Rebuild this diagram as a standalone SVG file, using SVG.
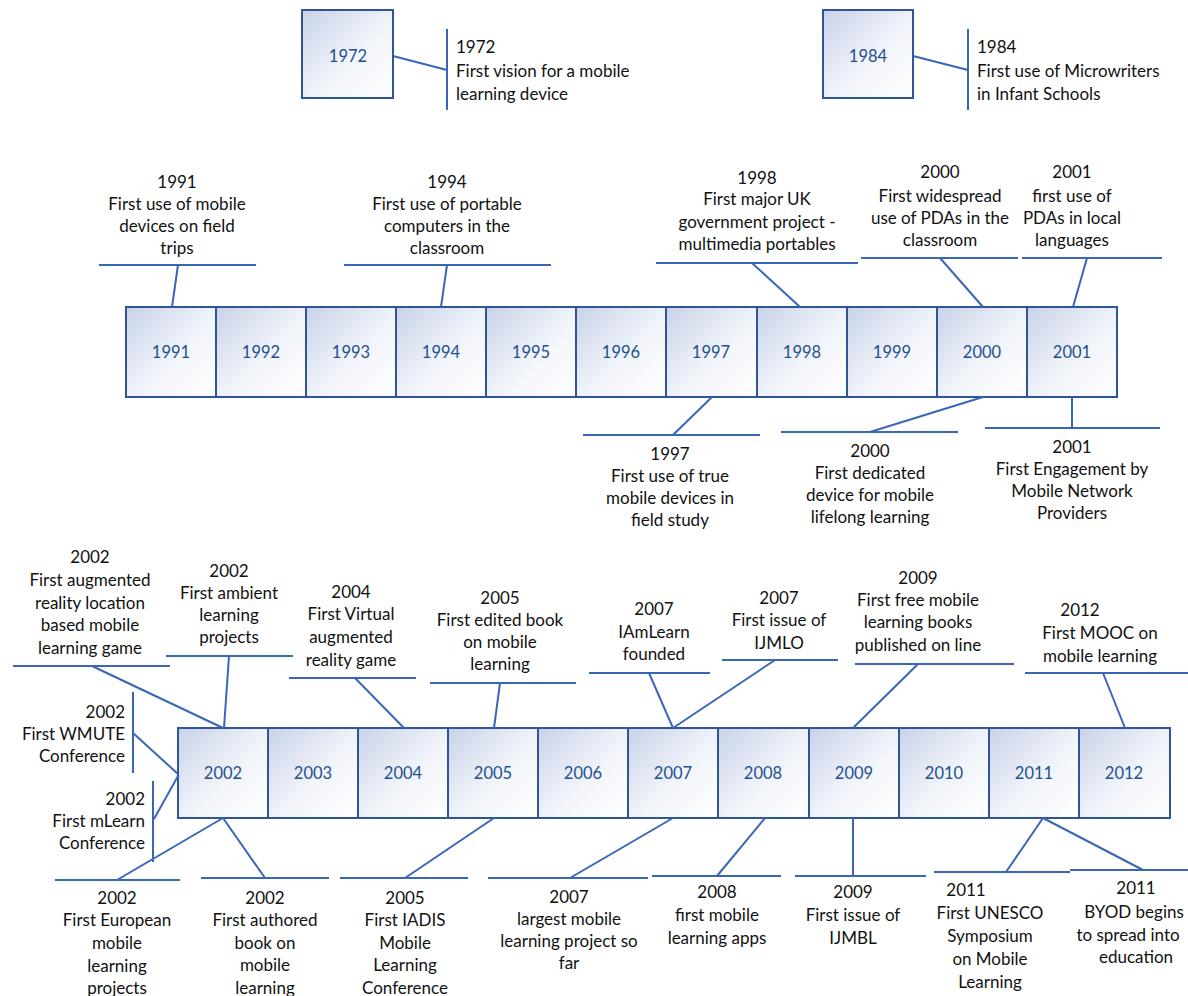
<svg xmlns="http://www.w3.org/2000/svg" width="1188" height="996" viewBox="0 0 1188 996">
  <defs>
    <linearGradient id="boxFill" x1="0" y1="0" x2="1" y2="1">
      <stop offset="0" stop-color="#c8d2e8"/>
      <stop offset="0.55" stop-color="#f1f4fa"/>
      <stop offset="1" stop-color="#ffffff"/>
    </linearGradient>
  </defs>
  <style>
    .box { fill: url(#boxFill); stroke: #2f5597; stroke-width: 2; }
    .year { font-family: Lato, "Noto Sans", sans-serif; font-size: 16.5px; fill: #24508f; text-anchor: middle; }
    .lbl, .lblL, .lblR { font-family: Lato, "Noto Sans", sans-serif; font-size: 17px; fill: #111111; }
    .lbl { text-anchor: middle; }
    .lblL { text-anchor: start; }
    .lblR { text-anchor: end; }
    .conn line { stroke: #3a66b7; stroke-width: 2; fill: none; }
  </style>
  <rect width="1188" height="996" fill="#ffffff"/>

  <!-- early milestones -->
  <g id="node-1972">
    <rect class="box" x="302" y="10" width="91" height="88"/>
    <text class="year" x="348" y="62">1972</text>
  </g>
  <g id="node-1984">
    <rect class="box" x="823" y="10" width="90" height="88"/>
    <text class="year" x="868" y="62">1984</text>
  </g>

  <!-- timeline 1991-2001 -->
  <g id="timeline-1991-2001">
    <g id="node-1991"><rect class="box" x="126" y="307" width="90" height="90"/><text class="year" x="171" y="358">1991</text></g>
    <g id="node-1992"><rect class="box" x="216" y="307" width="90" height="90"/><text class="year" x="261" y="358">1992</text></g>
    <g id="node-1993"><rect class="box" x="306" y="307" width="90" height="90"/><text class="year" x="351" y="358">1993</text></g>
    <g id="node-1994"><rect class="box" x="396" y="307" width="90" height="90"/><text class="year" x="441" y="358">1994</text></g>
    <g id="node-1995"><rect class="box" x="486" y="307" width="90" height="90"/><text class="year" x="531" y="358">1995</text></g>
    <g id="node-1996"><rect class="box" x="576" y="307" width="90" height="90"/><text class="year" x="621" y="358">1996</text></g>
    <g id="node-1997"><rect class="box" x="666" y="307" width="91" height="90"/><text class="year" x="711" y="358">1997</text></g>
    <g id="node-1998"><rect class="box" x="757" y="307" width="90" height="90"/><text class="year" x="802" y="358">1998</text></g>
    <g id="node-1999"><rect class="box" x="847" y="307" width="90" height="90"/><text class="year" x="892" y="358">1999</text></g>
    <g id="node-2000"><rect class="box" x="937" y="307" width="90" height="90"/><text class="year" x="982" y="358">2000</text></g>
    <g id="node-2001"><rect class="box" x="1027" y="307" width="90" height="90"/><text class="year" x="1072" y="358">2001</text></g>
  </g>

  <!-- timeline 2002-2012 -->
  <g id="timeline-2002-2012">
    <g id="node-2002"><rect class="box" x="178" y="728" width="90" height="90"/><text class="year" x="223" y="779">2002</text></g>
    <g id="node-2003"><rect class="box" x="268" y="728" width="90" height="90"/><text class="year" x="313" y="779">2003</text></g>
    <g id="node-2004"><rect class="box" x="358" y="728" width="90" height="90"/><text class="year" x="403" y="779">2004</text></g>
    <g id="node-2005"><rect class="box" x="448" y="728" width="90" height="90"/><text class="year" x="493" y="779">2005</text></g>
    <g id="node-2006"><rect class="box" x="538" y="728" width="90" height="90"/><text class="year" x="583" y="779">2006</text></g>
    <g id="node-2007"><rect class="box" x="628" y="728" width="90" height="90"/><text class="year" x="673" y="779">2007</text></g>
    <g id="node-2008"><rect class="box" x="718" y="728" width="91" height="90"/><text class="year" x="763" y="779">2008</text></g>
    <g id="node-2009"><rect class="box" x="809" y="728" width="90" height="90"/><text class="year" x="854" y="779">2009</text></g>
    <g id="node-2010"><rect class="box" x="899" y="728" width="90" height="90"/><text class="year" x="944" y="779">2010</text></g>
    <g id="node-2011"><rect class="box" x="989" y="728" width="90" height="90"/><text class="year" x="1034" y="779">2011</text></g>
    <g id="node-2012"><rect class="box" x="1079" y="728" width="91" height="90"/><text class="year" x="1124" y="779">2012</text></g>
  </g>

  <!-- callout connectors: leader line plus underline bar -->
  <g id="connectors" class="conn">
    <line x1="393" y1="56" x2="447" y2="70"/>
    <line x1="447" y1="29" x2="447" y2="110"/>
    <line x1="913" y1="56" x2="968" y2="70"/>
    <line x1="968" y1="29" x2="968" y2="110"/>

    <line x1="99" y1="265" x2="256" y2="265"/><line x1="178" y1="265" x2="172" y2="307"/>
    <line x1="344" y1="265" x2="551" y2="265"/><line x1="447" y1="265" x2="441" y2="307"/>
    <line x1="656" y1="263" x2="858" y2="263"/><line x1="752" y1="263" x2="800" y2="307"/>
    <line x1="861" y1="258" x2="1018" y2="258"/><line x1="940" y1="258" x2="983" y2="307"/>
    <line x1="1022" y1="258" x2="1162" y2="258"/><line x1="1087" y1="258" x2="1073" y2="307"/>

    <line x1="583" y1="435" x2="760" y2="435"/><line x1="712" y1="397" x2="673" y2="435"/>
    <line x1="781" y1="432" x2="958" y2="432"/><line x1="983" y1="397" x2="870" y2="432"/>
    <line x1="985" y1="428" x2="1160" y2="428"/><line x1="1072" y1="397" x2="1072" y2="428"/>

    <line x1="13" y1="666" x2="170" y2="666"/><line x1="92" y1="666" x2="223" y2="728"/>
    <line x1="166" y1="656" x2="293" y2="656"/><line x1="229" y1="656" x2="224" y2="728"/>
    <line x1="133" y1="692" x2="133" y2="773"/><line x1="133" y1="733" x2="178" y2="774"/>
    <line x1="153" y1="781" x2="153" y2="862"/><line x1="178" y1="776" x2="154" y2="819"/>
    <line x1="289" y1="678" x2="416" y2="678"/><line x1="355" y1="678" x2="404" y2="728"/>
    <line x1="430" y1="683" x2="576" y2="683"/><line x1="500" y1="683" x2="494" y2="728"/>
    <line x1="589" y1="673" x2="710" y2="673"/><line x1="649" y1="673" x2="673" y2="728"/>
    <line x1="722" y1="660" x2="838" y2="660"/><line x1="775" y1="660" x2="673" y2="728"/>
    <line x1="855" y1="664" x2="1014" y2="664"/><line x1="918" y1="664" x2="853" y2="728"/>
    <line x1="1025" y1="673" x2="1188" y2="673"/><line x1="1103" y1="673" x2="1125" y2="728"/>

    <line x1="55" y1="880" x2="180" y2="880"/><line x1="117" y1="880" x2="223" y2="818"/>
    <line x1="201" y1="878" x2="329" y2="878"/><line x1="223" y1="818" x2="265" y2="878"/>
    <line x1="340" y1="878" x2="468" y2="878"/><line x1="494" y1="818" x2="405" y2="878"/>
    <line x1="488" y1="878" x2="648" y2="878"/><line x1="673" y1="818" x2="570" y2="878"/>
    <line x1="652" y1="876" x2="781" y2="876"/><line x1="765" y1="818" x2="717" y2="876"/>
    <line x1="795" y1="876" x2="926" y2="876"/><line x1="853" y1="818" x2="853" y2="876"/>
    <line x1="934" y1="872" x2="1070" y2="872"/><line x1="1043" y1="818" x2="1006" y2="872"/>
    <line x1="1070" y1="870" x2="1188" y2="870"/><line x1="1043" y1="818" x2="1143" y2="870"/>
  </g>

  <!-- event labels -->
  <g id="labels">
    <text class="lblL"><tspan x="456" y="53">1972</tspan><tspan x="456" y="77">First vision for a mobile</tspan><tspan x="456" y="100">learning device</tspan></text>
    <text class="lblL"><tspan x="977" y="53">1984</tspan><tspan x="977" y="77">First use of Microwriters</tspan><tspan x="977" y="100">in Infant Schools</tspan></text>

    <text class="lbl"><tspan x="177" y="188">1991</tspan><tspan x="177" y="210">First use of mobile</tspan><tspan x="177" y="232">devices on field</tspan><tspan x="177" y="254">trips</tspan></text>
    <text class="lbl"><tspan x="447" y="188">1994</tspan><tspan x="447" y="210">First use of portable</tspan><tspan x="447" y="232">computers in the</tspan><tspan x="447" y="254">classroom</tspan></text>
    <text class="lbl"><tspan x="757" y="184">1998</tspan><tspan x="757" y="205">First major UK</tspan><tspan x="757" y="228">government project -</tspan><tspan x="757" y="250">multimedia portables</tspan></text>
    <text class="lbl"><tspan x="940" y="178">2000</tspan><tspan x="940" y="202">First widespread</tspan><tspan x="940" y="224">use of PDAs in the</tspan><tspan x="940" y="246">classroom</tspan></text>
    <text class="lbl"><tspan x="1072" y="178">2001</tspan><tspan x="1072" y="202">first use of</tspan><tspan x="1072" y="224">PDAs in local</tspan><tspan x="1072" y="246">languages</tspan></text>

    <text class="lbl"><tspan x="670" y="460">1997</tspan><tspan x="670" y="482">First use of true</tspan><tspan x="670" y="504">mobile devices in</tspan><tspan x="670" y="526">field study</tspan></text>
    <text class="lbl"><tspan x="870" y="457">2000</tspan><tspan x="870" y="479">First dedicated</tspan><tspan x="870" y="501">device for mobile</tspan><tspan x="870" y="523">lifelong learning</tspan></text>
    <text class="lbl"><tspan x="1072" y="453">2001</tspan><tspan x="1072" y="475">First Engagement by</tspan><tspan x="1072" y="497">Mobile Network</tspan><tspan x="1072" y="519">Providers</tspan></text>

    <text class="lbl"><tspan x="90" y="563">2002</tspan><tspan x="90" y="586">First augmented</tspan><tspan x="90" y="609">reality location</tspan><tspan x="90" y="631">based mobile</tspan><tspan x="90" y="654">learning game</tspan></text>
    <text class="lbl"><tspan x="229" y="577">2002</tspan><tspan x="229" y="599">First ambient</tspan><tspan x="229" y="621">learning</tspan><tspan x="229" y="643">projects</tspan></text>
    <text class="lblR"><tspan x="125" y="718">2002</tspan><tspan x="125" y="740">First WMUTE</tspan><tspan x="125" y="762">Conference</tspan></text>
    <text class="lblR"><tspan x="145" y="805">2002</tspan><tspan x="145" y="827">First mLearn</tspan><tspan x="145" y="849">Conference</tspan></text>
    <text class="lbl"><tspan x="351" y="598">2004</tspan><tspan x="351" y="620">First Virtual</tspan><tspan x="351" y="643">augmented</tspan><tspan x="351" y="666">reality game</tspan></text>
    <text class="lbl"><tspan x="500" y="604">2005</tspan><tspan x="500" y="626">First edited book</tspan><tspan x="500" y="648">on mobile</tspan><tspan x="500" y="670">learning</tspan></text>
    <text class="lbl"><tspan x="654" y="615">2007</tspan><tspan x="654" y="638">IAmLearn</tspan><tspan x="654" y="660">founded</tspan></text>
    <text class="lbl"><tspan x="779" y="604">2007</tspan><tspan x="779" y="626">First issue of</tspan><tspan x="779" y="649">IJMLO</tspan></text>
    <text class="lbl"><tspan x="918" y="584">2009</tspan><tspan x="918" y="606">First free mobile</tspan><tspan x="918" y="628">learning books</tspan><tspan x="918" y="651">published on line</tspan></text>
    <text class="lbl"><tspan x="1080" y="616">2012</tspan><tspan x="1100" y="639">First MOOC on</tspan><tspan x="1100" y="662">mobile learning</tspan></text>

    <text class="lbl"><tspan x="117" y="904">2002</tspan><tspan x="117" y="926">First European</tspan><tspan x="117" y="949">mobile</tspan><tspan x="117" y="972">learning</tspan><tspan x="117" y="994">projects</tspan></text>
    <text class="lbl"><tspan x="265" y="904">2002</tspan><tspan x="265" y="926">First authored</tspan><tspan x="265" y="949">book on</tspan><tspan x="265" y="971">mobile</tspan><tspan x="265" y="994">learning</tspan></text>
    <text class="lbl"><tspan x="405" y="904">2005</tspan><tspan x="405" y="926">First IADIS</tspan><tspan x="405" y="949">Mobile</tspan><tspan x="405" y="971">Learning</tspan><tspan x="405" y="994">Conference</tspan></text>
    <text class="lbl"><tspan x="569" y="903">2007</tspan><tspan x="569" y="925">largest mobile</tspan><tspan x="569" y="947">learning project so</tspan><tspan x="569" y="969">far</tspan></text>
    <text class="lbl"><tspan x="717" y="898">2008</tspan><tspan x="717" y="921">first mobile</tspan><tspan x="717" y="944">learning apps</tspan></text>
    <text class="lbl"><tspan x="853" y="898">2009</tspan><tspan x="853" y="921">First issue of</tspan><tspan x="853" y="944">IJMBL</tspan></text>
    <text class="lbl"><tspan x="966" y="896">2011</tspan><tspan x="990" y="919">First UNESCO</tspan><tspan x="990" y="942">Symposium</tspan><tspan x="990" y="965">on Mobile</tspan><tspan x="990" y="988">Learning</tspan></text>
    <text class="lbl"><tspan x="1136" y="894">2011</tspan><tspan x="1134" y="918">BYOD begins</tspan><tspan x="1128" y="941">to spread into</tspan><tspan x="1136" y="963">education</tspan></text>
  </g>
</svg>
